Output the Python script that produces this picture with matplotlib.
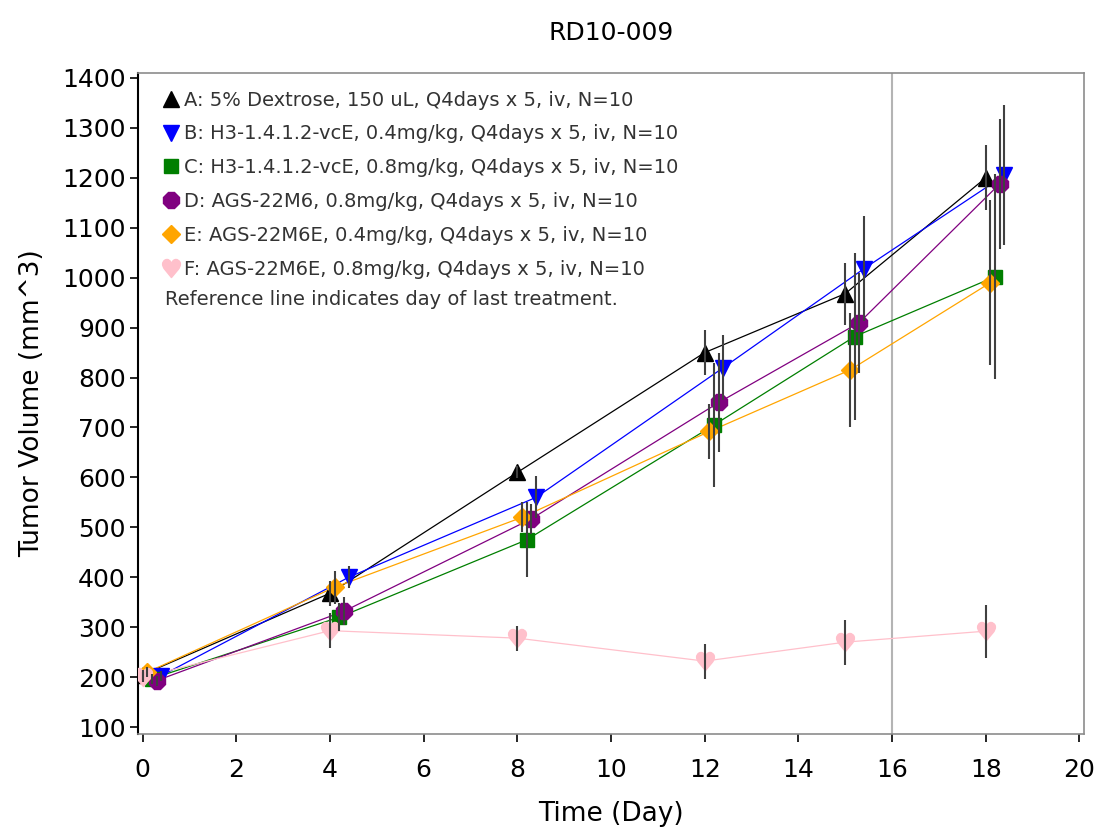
import numpy as np
import matplotlib.pyplot as plt
from matplotlib.lines import Line2D

plt.rcParams['font.family'] = ['DejaVu Sans']

days = np.array([0, 4, 8, 12, 15, 18])

labels = ["A: 5% Dextrose, 150 uL, Q4days x 5, iv, N=10",
          "B: H3-1.4.1.2-vcE, 0.4mg/kg, Q4days x 5, iv, N=10",
          "C: H3-1.4.1.2-vcE, 0.8mg/kg, Q4days x 5, iv, N=10",
          "D: AGS-22M6, 0.8mg/kg, Q4days x 5, iv, N=10",
          "E: AGS-22M6E, 0.4mg/kg, Q4days x 5, iv, N=10",
          "F: AGS-22M6E, 0.8mg/kg, Q4days x 5, iv, N=10"]

vol_A = [205, 368, 610, 850, 968, 1200]
vol_B = [203, 400, 560, 820, 1018, 1205]
vol_C = [197, 320, 475, 705, 882, 1002]
vol_D = [193, 332, 517, 750, 910, 1188]
vol_E = [210, 380, 520, 692, 815, 990]
vol_F = [200, 293, 278, 232, 270, 292]

err_A = [10, 25, 12, 45, 62, 65]
err_B = [10, 22, 42, 65, 105, 140]
err_C = [10, 28, 75, 125, 168, 205]
err_D = [10, 28, 30, 100, 100, 130]
err_E = [10, 33, 30, 55, 115, 165]
err_F = [10, 35, 25, 35, 45, 53]

last_treatment = 16

vols = [vol_A, vol_B, vol_C, vol_D, vol_E, vol_F]
errs = [err_A, err_B, err_C, err_D, err_E, err_F]
shifts = [0.0, 0.4, 0.2, 0.3, 0.1, 0.0]
colors = ['black', '#0000ff', '#007f00', '#800080', '#ffa500', '#ffc0cb']
markers = ['^', 'v', 's', '8', 'D', '$\u2665$']
msizes = [11, 11, 10, 12, 9, 13]

fig = plt.figure(figsize=(10.99, 8.36), dpi=100)
ax = fig.add_axes([0.1256, 0.122, 0.8608, 0.7907])

ax.axvline(last_treatment, color='#b4b4b4', lw=1.5, zorder=1)

handles = []
for i in range(6):
    x = days + shifts[i]
    ax.plot(x, vols[i], '-', color=colors[i], lw=0.9, zorder=2)
    ax.plot(x, vols[i], linestyle='none', marker=markers[i], ms=msizes[i],
            color=colors[i], mec=colors[i], zorder=3)
    ax.errorbar(x, vols[i], yerr=errs[i], fmt='none', ecolor='#404040',
                elinewidth=1.5, capsize=0, zorder=4)
    handles.append(Line2D([], [], linestyle='none', marker=markers[i],
                          ms=msizes[i], color=colors[i], mec=colors[i]))

leg = ax.legend(handles, labels, loc='upper left', bbox_to_anchor=(0.018, 0.985),
                frameon=False, fontsize=14, handlelength=0.8, handletextpad=0.3,
                labelspacing=0.76, borderaxespad=0, labelcolor='#333333')
ax.text(0.0285, 0.657, "Reference line indicates day of last treatment.",
        transform=ax.transAxes, fontsize=14, color='#333333', va='center')

ax.set_xlim(-0.1, 20.1)
ax.set_ylim(86, 1410)
ax.set_xticks(np.arange(0, 21, 2))
ax.set_yticks(np.arange(100, 1401, 100))
ax.tick_params(labelsize=18, length=6, width=1.2, direction='out')
ax.tick_params(axis='x', pad=11)
ax.tick_params(axis='y', pad=3)

for side in ['top', 'right', 'bottom']:
    ax.spines[side].set_color('#8c8c8c')
    ax.spines[side].set_linewidth(1.2)
ax.spines['left'].set_color('black')
ax.spines['left'].set_linewidth(1.5)

ax.set_xlabel("Time (Day)", fontsize=19, labelpad=14)
ax.set_ylabel("Tumor Volume (mm^3)", fontsize=19, labelpad=12)
ax.set_title("RD10-009", fontsize=18, pad=24)

fig.savefig('out.png', dpi=100)
